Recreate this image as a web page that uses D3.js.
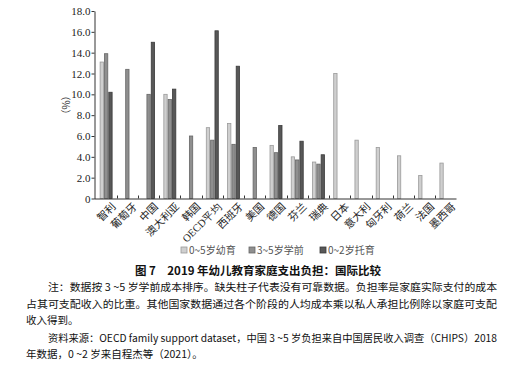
<!DOCTYPE html>
<html><head><meta charset="utf-8">
<script src="https://cdn.jsdelivr.net/npm/d3@7"></script>
<style>
html,body{margin:0;padding:0;background:#fff;}
svg{display:block;}
</style></head>
<body>
<svg id="c" width="516" height="368"></svg>
<script>
const categories = ["智利","葡萄牙","中国","澳大利亚","韩国","OECD平均","西班牙","美国","德国","芬兰","瑞典","日本","意大利","匈牙利","荷兰","法国","墨西哥"];
const seriesNames = ["0~5岁幼育","3~5岁学前","0~2岁托育"];
const childcare05 = [13.1,null,null,10.0,null,6.8,7.2,null,5.1,4.0,3.5,12.0,5.6,4.9,4.1,2.2,3.4];
const preschool35 = [13.9,12.4,10.0,9.5,6.0,5.6,5.2,4.9,4.4,3.7,3.3,null,null,null,null,null,null];
const nursery02  = [10.2,null,15.0,10.5,null,16.1,12.7,null,7.0,5.5,4.2,null,null,null,null,null,null];
const yTicks = [0,2,4,6,8,10,12,14,16,18];
const titleText = "图 7　2019 年幼儿教育家庭支出负担：国际比较";
const noteLines = [
  "注：数据按 3 ~5 岁学前成本排序。缺失柱子代表没有可靠数据。负担率是家庭实际支付的成本",
  "占其可支配收入的比重。其他国家数据通过各个阶段的人均成本乘以私人承担比例除以家庭可支配",
  "收入得到。",
  "资料来源：OECD family support dataset，中国 3 ~5 岁负担来自中国居民收入调查（CHIPS）2018",
  "年数据，0 ~2 岁来自程杰等（2021）。"
];

const series = [childcare05, preschool35, nursery02];
const fills = ["#cfcfcf","#8f8f8f","#585858"];
const strokes = ["#9a9a9a","#666","#3a3a3a"];
const serif = "Liberation Serif, DejaVu Serif, serif";
const cjk = "Noto Sans CJK SC, Noto Sans, sans-serif";

const svg = d3.select("#c");
const x = d3.scaleBand().domain(categories).range([95.5, 456.5]).padding(0);
const sub = d3.scaleBand().domain([0,1,2]).range([0, 13]).padding(0);
const off = (x.bandwidth() - 13) / 2;
const y = d3.scaleLinear().domain([0,18]).range([198.5, 11]);

// bars
series.forEach((vals, si) => {
  svg.append("g").selectAll("rect")
    .data(vals.map((v,i)=>({v, c: categories[i]})).filter(d => d.v != null))
    .join("rect")
    .attr("x", d => x(d.c) + off + sub(si) + 0.5)
    .attr("y", d => y(d.v))
    .attr("width", sub.bandwidth() - 1)
    .attr("height", d => y(0) - y(d.v))
    .attr("fill", fills[si])
    .attr("stroke", strokes[si])
    .attr("stroke-width", 0.8);
});

// y axis
const yAxis = svg.append("g").attr("transform", "translate(94.5,0)")
  .call(d3.axisLeft(y).tickValues(yTicks).tickSize(3).tickSizeOuter(0)
    .tickFormat(d => d === 0 ? "0" : d3.format(".1f")(d)));
yAxis.attr("font-family", serif).attr("font-size", 11);
yAxis.select(".domain").attr("stroke", "#333");
yAxis.selectAll(".tick line").attr("stroke", "#333");
yAxis.selectAll("text").style("font-family", serif).attr("font-size", 11).attr("fill", "#222").attr("x", -4);

// x baseline & inner ticks
svg.append("line").attr("x1", 94.5).attr("x2", x.range()[1]).attr("y1", y(0)+0.5).attr("y2", y(0)+0.5).attr("stroke", "#333");
svg.append("g").selectAll("line").data(categories.slice(1)).join("line")
  .attr("x1", d => Math.round(x(d)) + 0.5).attr("x2", d => Math.round(x(d)) + 0.5)
  .attr("y1", y(0)).attr("y2", y(0) - 3).attr("stroke", "#333");

// category labels
svg.append("g").selectAll("text").data(categories).join("text")
  .attr("transform", d => `translate(${x(d) + x.bandwidth()/2 + 5},${202}) rotate(-45)`)
  .attr("text-anchor", "end")
  .attr("dy", "0.7em")
  .style("font-family", d => /OECD/.test(d) ? serif : cjk)
  .attr("font-size", 10.5)
  .attr("fill", "#222")
  .text(d => d);

// y label
svg.append("text").attr("transform", "translate(70,105) rotate(-90)")
  .attr("text-anchor", "middle").style("font-family", cjk).attr("font-size", 10).attr("fill", "#333")
  .text("（%）");

// legend
const legX = [181, 249, 320];
const leg = svg.append("g");
seriesNames.forEach((n, i) => {
  leg.append("rect").attr("x", legX[i]).attr("y", 247).attr("width", 6).attr("height", 6)
    .attr("fill", fills[i]).attr("stroke", strokes[i]).attr("stroke-width", 0.8);
  leg.append("text").attr("x", legX[i] + 8).attr("y", 254).style("font-family", cjk)
    .attr("font-size", 10).attr("fill", "#555").text(n);
});

// title
svg.append("text").attr("x", 258).attr("y", 275).attr("text-anchor", "middle")
  .style("font-family", cjk).attr("font-weight", "bold").attr("font-size", 11.5).attr("fill", "#111")
  .text(titleText);

// notes
const noteY = [291, 307.5, 323.5, 341.5, 357.5];
const noteX = [48, 26, 26, 48, 26];
const noteW = [449, 471, null, 449, null];
noteLines.forEach((t, i) => {
  const el = svg.append("text").attr("x", noteX[i]).attr("y", noteY[i])
    .style("font-family", cjk).attr("font-size", 10.5).attr("fill", "#111").text(t);
  if (noteW[i]) el.attr("textLength", noteW[i]).attr("lengthAdjust", "spacingAndGlyphs");
});
</script>
</body></html>
